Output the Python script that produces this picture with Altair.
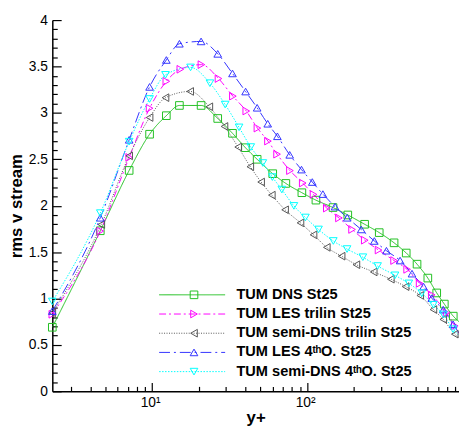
import altair as alt
import pandas as pd

SERIES = [
    "TUM DNS St25",
    "TUM LES trilin St25",
    "TUM semi-DNS trilin St25",
    "TUM LES 4ᵗʰO. St25",
    "TUM semi-DNS 4ᵗʰO. St25",
]
COLORS = ["#22c022", "#ff00ff", "#555555", "#3333ff", "#00ffff"]
DASHES = [[1, 0], [7, 3, 2, 3], [1, 1.5], [11, 4, 2, 4], [1.5, 1.5]]
SHAPES = ["square", "triangle-right", "triangle-left", "triangle-up", "triangle-down"]

X_MIN, X_MAX = 2.27, 955.0

dns_x = [2.27, 4.63, 7.11, 9.63, 12.35, 15.0, 20.7, 26.5, 33.0, 40.0, 47.6, 60.0, 72.9, 92.5, 114.0,
         147.0, 183.0, 235.0, 292.0, 364.0, 436.0, 512.0, 601.0, 686.0, 768.0, 877.0]
dns_v = [0.69, 1.73, 2.38, 2.77, 2.97, 3.08, 3.08, 2.94, 2.78, 2.625, 2.50, 2.345, 2.24, 2.14, 2.06,
         1.98, 1.90, 1.80, 1.71, 1.60, 1.49, 1.37, 1.22, 1.06, 0.94, 0.81]

lest_x = [2.27, 4.63, 7.11, 9.63, 12.35, 15.2, 20.8, 26.8, 33.2, 40.5, 47.8, 55.9, 64.0, 77.5, 93.7,
          110.0, 134.0, 160.5, 195.0, 235.5, 289.0, 364.0, 442.0, 532.0, 637.0, 794.0, 897.0]
lest_v = [0.83, 1.726, 2.52, 3.05, 3.34, 3.47, 3.52, 3.37, 3.18, 3.02, 2.836, 2.696, 2.555, 2.378, 2.244,
          2.121, 1.974, 1.868, 1.744, 1.628, 1.522, 1.409, 1.314, 1.163, 1.039, 0.846, 0.705]

sdt_x = [2.27, 4.7, 7.11, 9.63, 12.2, 17.6, 23.4, 29.3, 35.9, 43.0, 50.5, 59.2, 72.1, 90.6, 110.0,
         134.0, 167.0, 208.0, 269.0, 347.0, 432.0, 537.0, 653.0, 756.0, 897.0]
sdt_v = [0.846, 1.797, 2.537, 2.95, 3.164, 3.231, 3.066, 2.854, 2.632, 2.42, 2.255, 2.114, 1.956, 1.815, 1.686,
         1.551, 1.456, 1.364, 1.286, 1.208, 1.128, 1.033, 0.881, 0.775, 0.616]

les4_x = [2.27, 4.63, 7.11, 9.63, 12.35, 15.0, 20.7, 26.5, 33.0, 40.1, 47.6, 55.7, 64.3, 77.2, 92.0,
          108.0, 126.4, 151.4, 181.6, 223.5, 271.5, 325.0, 398.0, 475.0, 564.0, 637.0, 756.0, 875.0]
les4_v = [0.864, 1.87, 2.71, 3.28, 3.57, 3.745, 3.77, 3.636, 3.425, 3.23, 3.055, 2.883, 2.748, 2.548, 2.389,
          2.255, 2.125, 1.99, 1.87, 1.744, 1.62, 1.515, 1.409, 1.268, 1.128, 1.004, 0.88, 0.722]

sd4_x = [2.27, 4.63, 7.11, 9.63, 12.2, 17.7, 23.6, 29.6, 36.4, 43.3, 51.8, 59.7, 68.7, 82.2, 97.5,
         118.5, 147.6, 181.0, 229.0, 285.0, 369.0, 453.0, 550.0, 653.0, 756.0, 875.0]
sd4_v = [0.968, 1.92, 2.69, 3.15, 3.41, 3.49, 3.32, 3.09, 2.844, 2.632, 2.46, 2.308, 2.174, 1.998, 1.873,
         1.744, 1.62, 1.533, 1.445, 1.35, 1.25, 1.163, 1.057, 0.933, 0.828, 0.669]

end_v = [0.75, 0.62, 0.58, 0.63, 0.60]

XS = [dns_x, lest_x, sdt_x, les4_x, sd4_x]
VS = [dns_v, lest_v, sdt_v, les4_v, sd4_v]

X_MAJOR = [10, 100]
X_MINOR = [3, 4, 5, 6, 7, 8, 9, 20, 30, 40, 50, 60, 70, 80, 90, 200, 300, 400, 500, 600, 700, 800, 900]
Y_MAJOR = [0, 0.5, 1, 1.5, 2, 2.5, 3, 3.5, 4]
Y_MINOR = [round(i * 0.1, 1) for i in range(41) if i % 5 != 0]

rows = []
for s, xs, vs, ev in zip(SERIES, XS, VS, end_v):
    for x, v in zip(xs, vs):
        rows.append({"series": s, "yp": x, "v": v, "mk": True})
    rows.append({"series": s, "yp": X_MAX, "v": ev, "mk": False})
df = pd.DataFrame(rows)

FONT = "Liberation Sans"
xscale = alt.Scale(type="log", domain=[X_MIN, X_MAX], nice=False)
yscale = alt.Scale(domain=[0, 4], nice=False, zero=False)

x_lab = alt.Axis(orient="bottom", values=X_MAJOR, ticks=False, grid=False,
                 labelExpr="datum.value == 10 ? '10¹' : '10²'",
                 domainColor="black", domainWidth=1.5,
                 labelFont=FONT, labelFontSize=14, labelColor="black", labelPadding=4, labelOffset=-2,
                 title="y+", titleFont=FONT, titleFontSize=17, titleFontWeight="bold", titleColor="black",
                 titleY=32, titleBaseline="alphabetic")
y_lab = alt.Axis(orient="left", values=Y_MAJOR, ticks=False, grid=False, format="~g",
                 domainColor="black", domainWidth=1.5,
                 labelFont=FONT, labelFontSize=14, labelColor="black", labelPadding=5,
                 title="rms v stream", titleFont=FONT, titleFontSize=17, titleFontWeight="bold",
                 titleColor="black", titleX=-31, titleY=188.5, titleAngle=270,
                 titleBaseline="alphabetic", titleAlign="center")


def tick_axis(orient, values, size):
    return alt.Axis(orient=orient, values=values, labels=False, domain=False, grid=False, title=None,
                    ticks=True, tickColor="black", tickWidth=1.2, tickSize={"expr": str(-size)})


LEG_Y = 272
ROW_PAD = 4.5
line_legend = alt.Legend(orient="none", legendX=108, legendY=LEG_Y, title=None,
                         symbolType="stroke", symbolSize=4489, symbolStrokeWidth=1,
                         labelFont=FONT, labelFontSize=14.8, labelFontWeight="bold",
                         labelColor="black", labelOffset=11, rowPadding=ROW_PAD, clipHeight=14,
                         padding=0, labelLimit=400)
pt_legend = alt.Legend(orient="none", legendX=136.5, legendY=LEG_Y, title=None,
                       symbolSize=60, symbolStrokeWidth=1,
                       labelExpr="''", labelFontSize=14.8,
                       labelOffset=0, rowPadding=ROW_PAD, clipHeight=14,
                       padding=0)

lines = alt.Chart(df).mark_line(strokeWidth=1, interpolate="monotone", clip=True).encode(
    x=alt.X("yp:Q", scale=xscale, axis=x_lab),
    y=alt.Y("v:Q", scale=yscale, axis=y_lab),
    color=alt.Color("series:N", scale=alt.Scale(domain=SERIES, range=COLORS), legend=line_legend),
    strokeDash=alt.StrokeDash("series:N", scale=alt.Scale(domain=SERIES, range=DASHES), legend=line_legend),
    order=alt.Order("yp:Q"),
)

points = alt.Chart(df).transform_filter("datum.mk").mark_point(
    filled=False, strokeWidth=1, size=60, opacity=1
).encode(
    x=alt.X("yp:Q", scale=xscale, axis=tick_axis("bottom", X_MAJOR, 9)),
    y=alt.Y("v:Q", scale=yscale, axis=tick_axis("left", Y_MAJOR, 9)),
    color=alt.Color("series:N", scale=alt.Scale(domain=SERIES, range=COLORS), legend=pt_legend),
    shape=alt.Shape("series:N", scale=alt.Scale(domain=SERIES, range=SHAPES), legend=pt_legend),
)

minor = alt.Chart(df).mark_point(opacity=0).encode(
    x=alt.X("yp:Q", scale=xscale, axis=tick_axis("bottom", X_MINOR, 5)),
    y=alt.Y("v:Q", scale=yscale, axis=tick_axis("left", Y_MINOR, 5)),
)

chart = alt.layer(lines, points, minor).resolve_scale(
    color="independent", shape="independent", strokeDash="independent"
).resolve_axis(
    x="independent", y="independent"
).properties(
    width=413, height=377,
    padding={"left": 45, "top": 9, "right": 0, "bottom": 35},
    autosize=alt.AutoSizeParams(type="none"),
    background="white",
).configure_view(stroke=None)

chart.save("out.html", embed_options={"renderer": "svg", "actions": False})
